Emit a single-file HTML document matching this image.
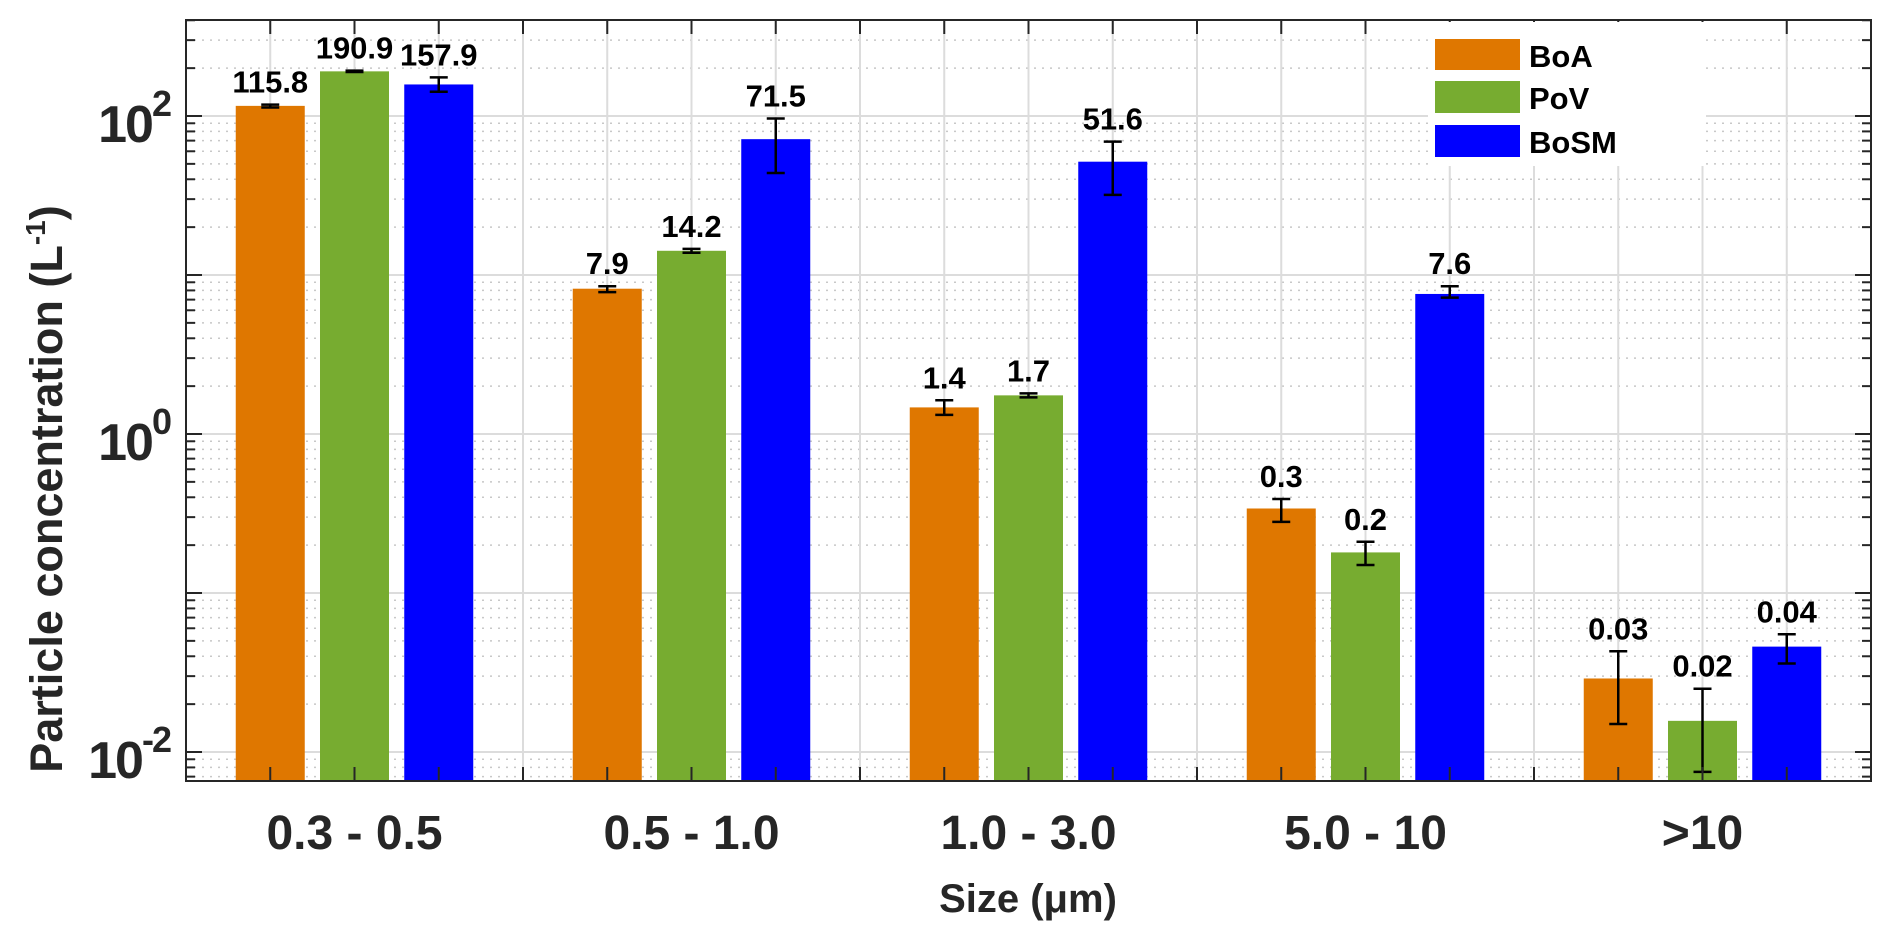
<!DOCTYPE html>
<html><head><meta charset="utf-8"><style>
html,body{margin:0;padding:0;background:#fff;}
svg{display:block;font-family:"Liberation Sans",Arial,sans-serif;}
</style></head><body>
<svg id="chart" width="1892" height="934" viewBox="0 0 1892 934">
<g id="grid"></g>
<g id="bars"></g>
<g id="axes"></g>
<g id="legend">
  <rect x="1428" y="22" width="278" height="144" fill="#fff"/>
  <rect x="1435" y="39" width="85" height="31" fill="#DF7700"/>
  <text x="1529" y="67" font-size="31" font-weight="bold">BoA</text>
  <rect x="1435" y="81" width="85" height="32" fill="#77AC30"/>
  <text x="1529" y="109" font-size="31" font-weight="bold">PoV</text>
  <rect x="1435" y="125" width="85" height="32" fill="#0000FF"/>
  <text x="1529" y="153" font-size="31" font-weight="bold">BoSM</text>
</g>
<text x="1028" y="912" text-anchor="middle" font-size="40" font-weight="bold" fill="#262626">Size (μm)</text>
<text transform="translate(62,489) rotate(-90)" text-anchor="middle" font-size="45" font-weight="bold" fill="#262626">Particle concentration  (L<tspan font-size="28" dy="-17">-1</tspan><tspan dy="17">)</tspan></text>
</svg>
<script>
const categories = ["0.3 - 0.5","0.5 - 1.0","1.0 - 3.0","5.0 - 10",">10"];
const seriesNames = ["BoA","PoV","BoSM"];
const seriesColors = ["#DF7700","#77AC30","#0000FF"];
const boaValues = [115.8, 8.2, 1.47, 0.34, 0.029];
const povValues = [190.9, 14.2, 1.75, 0.18, 0.0157];
const bosmValues = [157.9, 71.5, 51.6, 7.6, 0.046];
const boaLabels = ["115.8","7.9","1.4","0.3","0.03"];
const povLabels = ["190.9","14.2","1.7","0.2","0.02"];
const bosmLabels = ["157.9","71.5","51.6","7.6","0.04"];
const boaErrLow = [113, 7.8, 1.32, 0.28, 0.015];
const boaErrHigh = [118, 8.5, 1.63, 0.39, 0.043];
const povErrLow = [189, 13.8, 1.70, 0.15, 0.0075];
const povErrHigh = [193, 14.6, 1.80, 0.21, 0.025];
const bosmErrLow = [142, 43.8, 31.9, 7.2, 0.036];
const bosmErrHigh = [175, 96.5, 69, 8.5, 0.055];
const yTickExps = [-2, 0, 2];

const NS = "http://www.w3.org/2000/svg";
const L = 186, R = 1871, T = 20, B = 781;
const yMinLog = -2 - 29/159, yMaxLog = 2 + 96/159;
function yScale(v){ const lg = Math.log10(v); return B - (lg - yMinLog) / (yMaxLog - yMinLog) * (B - T); }
const groupW = (R - L) / categories.length;
function xGroup(i){ return L + groupW * (i + 0.5); }
const barStep = groupW / 4, barW = 69;
function mk(tag, attrs, parent){ const e = document.createElementNS(NS, tag); for (const k in attrs) e.setAttribute(k, attrs[k]); parent.appendChild(e); return e; }

const grid = document.getElementById('grid');
const axes = document.getElementById('axes');
const barsG = document.getElementById('bars');

for (let e = -3; e <= 2; e++) {
  for (let m = 1; m <= 9; m++) {
    const v = m * Math.pow(10, e);
    const y = yScale(v);
    if (y < T || y > B) continue;
    const ln = mk('line', {x1:L, x2:R, y1:y, y2:y, stroke: m===1?'#dcdcdc':'#c8c8c8', 'stroke-width': m===1?2:1.5, 'stroke-dasharray': m===1?'none':'2 6'}, grid);
    
    
    const tl = m===1 ? 16 : 9;
    const t1 = mk('line', {x1:L, x2:L+tl, y1:y, y2:y, stroke:'#262626', 'stroke-width':2}, axes);
    
    
    const t2 = mk('line', {x1:R, x2:R-tl, y1:y, y2:y, stroke:'#262626', 'stroke-width':2}, axes);
    
    
  }
}
for (let k = 1; k < categories.length * 4; k++) {
  const x = L + barStep * k;
  const g = mk('line', {x1:x, x2:x, y1:T, y2:B, stroke:'#dcdcdc', 'stroke-width':2}, grid);
  
  
  const tb = mk('line', {x1:x, x2:x, y1:B, y2:B-14, stroke:'#262626', 'stroke-width':2}, axes);
  
  
  const tt = mk('line', {x1:x, x2:x, y1:T, y2:T+14, stroke:'#262626', 'stroke-width':2}, axes);
  
  
}

const values = [boaValues, povValues, bosmValues];
const labels = [boaLabels, povLabels, bosmLabels];
const lows = [boaErrLow, povErrLow, bosmErrLow];
const highs = [boaErrHigh, povErrHigh, bosmErrHigh];
for (let i = 0; i < categories.length; i++) {
  for (let s = 0; s < 3; s++) {
    const cx = xGroup(i) + (s - 1) * barStep;
    const yt = yScale(values[s][i]);
    const r = mk('rect', {x:cx - barW/2, y:yt, width:barW, height:B - yt, fill:seriesColors[s]}, barsG);
    
    
    const yh = yScale(highs[s][i]);
    const yl = Math.min(B, yScale(lows[s][i]));
    const eb = mk('path', {d:`M${cx},${yh}V${yl}M${cx-9},${yh}H${cx+9}M${cx-9},${yl}H${cx+9}`, stroke:'#000', 'stroke-width':2.5, fill:'none'}, barsG);
    
    
    const tx = mk('text', {x:cx, y:yh - 12, 'text-anchor':'middle', 'font-size':31, 'font-weight':'bold', fill:'#000'}, barsG);
    tx.textContent = labels[s][i];
    
    
  }
  const cl = mk('text', {x:xGroup(i), y:849, 'text-anchor':'middle', 'font-size':48, 'font-weight':'bold', fill:'#262626'}, axes);
  cl.textContent = categories[i];
  
  
}
yTickExps.forEach(e => {
  const y = yScale(Math.pow(10, e));
  const t = mk('text', {x:170, y:y + 26, 'text-anchor':'end', 'font-size':52, 'font-weight':'bold', 'letter-spacing':-2, fill:'#262626'}, axes);
  t.innerHTML = '10<tspan font-size="36" dy="-26">' + e + '</tspan>';
  
  
});
const fr = mk('rect', {x:L, y:T, width:R-L, height:B-T, fill:'none', stroke:'#262626', 'stroke-width':2}, axes);


const svg = document.getElementById('chart');
svg.appendChild(document.getElementById('legend'));
</script>
</body></html>
